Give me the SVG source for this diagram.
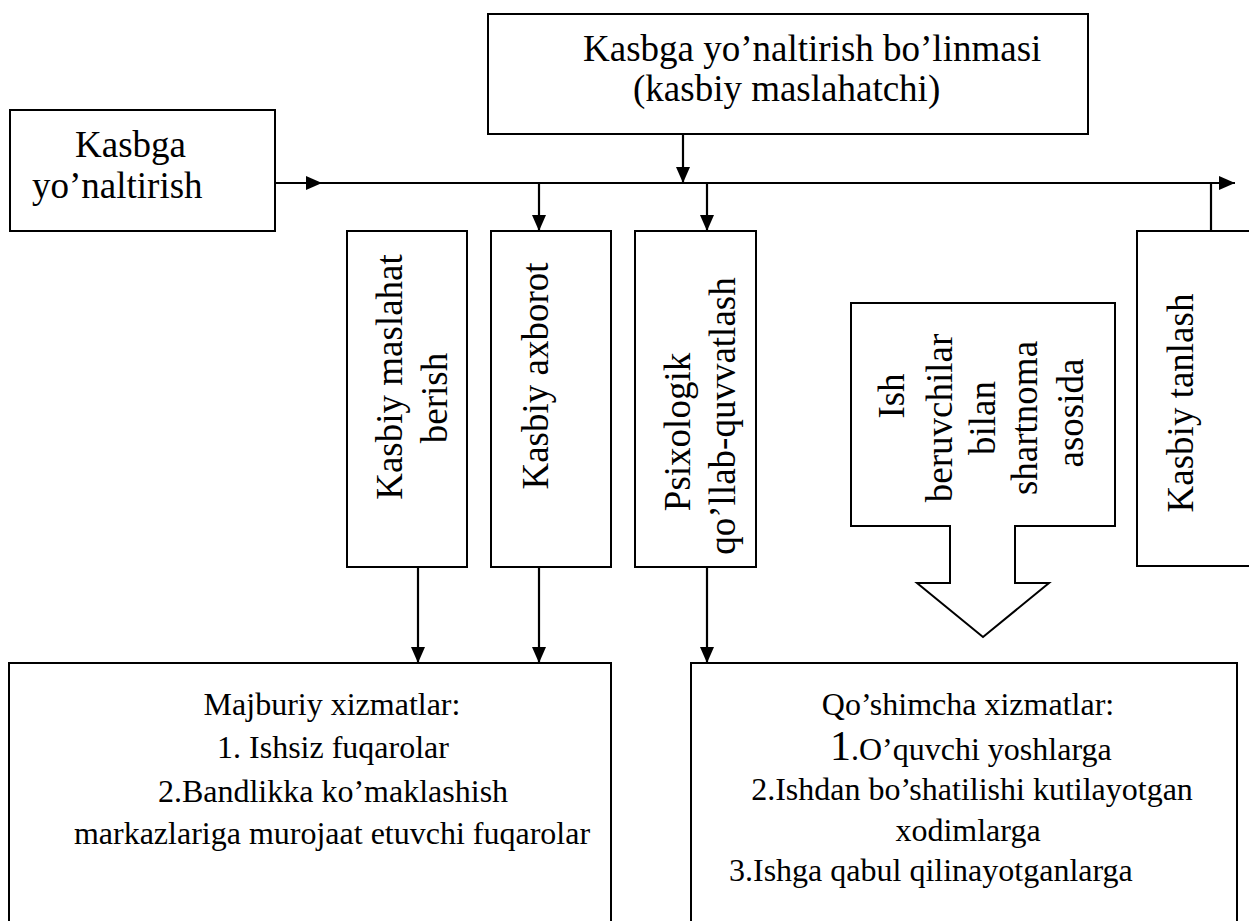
<svg xmlns="http://www.w3.org/2000/svg" width="1249" height="921" viewBox="0 0 1249 921">
<defs>
<style>
.box{fill:#fff;stroke:#000;stroke-width:2}
.ln{fill:none;stroke:#000;stroke-width:2.2}
.t{font-size:37px;fill:#000}
.s{font-size:32px;fill:#000}
.m{text-anchor:middle}
</style>
<marker id="ah" markerWidth="16" markerHeight="14" refX="16" refY="7" orient="auto" markerUnits="userSpaceOnUse">
<path d="M0,0 L16,7 L0,14 Z" fill="#000"/>
</marker>
</defs>
<rect width="1249" height="921" fill="#fff"/>

<g id="connectors">
<line class="ln" x1="275" y1="183" x2="1235" y2="183" marker-end="url(#ah)"/>
<line class="ln" x1="275" y1="183" x2="322" y2="183" marker-end="url(#ah)"/>
<line class="ln" x1="683" y1="134" x2="683" y2="183" marker-end="url(#ah)"/>
<line class="ln" x1="539" y1="183" x2="539" y2="231" marker-end="url(#ah)"/>
<line class="ln" x1="707" y1="183" x2="707" y2="231" marker-end="url(#ah)"/>
<line class="ln" x1="1211" y1="231" x2="1211" y2="183"/>
<line class="ln" x1="418" y1="567" x2="418" y2="663" marker-end="url(#ah)"/>
<line class="ln" x1="539" y1="567" x2="539" y2="663" marker-end="url(#ah)"/>
<line class="ln" x1="707" y1="567" x2="707" y2="663" marker-end="url(#ah)"/>
</g>

<g font-family="Liberation Serif, Tinos, Times New Roman, DejaVu Serif, serif">
<g id="top-node">
<rect class="box" x="488" y="14" width="600" height="120"/>
<text class="t" x="583" y="61">Kasbga yo’naltirish bo’linmasi</text>
<text class="t" x="633" y="101">(kasbiy maslahatchi)</text>
</g>

<g id="left-node">
<rect class="box" x="10" y="110" width="265" height="121"/>
<text class="t" x="75" y="157">Kasbga</text>
<text class="t" x="32" y="198">yo’naltirish</text>
</g>

<g id="maslahat-node">
<rect class="box" x="347" y="231" width="120" height="336"/>
<text class="t m" transform="translate(402,377) rotate(-90)">Kasbiy maslahat</text>
<text class="t m" transform="translate(447,398) rotate(-90)">berish</text>
</g>

<g id="axborot-node">
<rect class="box" x="491" y="231" width="120" height="336"/>
<text class="t m" transform="translate(548,376) rotate(-90)">Kasbiy axborot</text>
</g>

<g id="psixologik-node">
<rect class="box" x="635" y="231" width="121" height="336"/>
<text class="t m" transform="translate(690,432) rotate(-90)">Psixologik</text>
<text class="t m" transform="translate(735,416) rotate(-90)">qo’llab-quvvatlash</text>
</g>

<g id="ish-node">
<polygon class="box" points="851,303 1115,303 1115,526 1015,526 1015,583 1049,583 983,637 917,583 950,583 950,526 851,526"/>
<text class="t m" transform="translate(904,396) rotate(-90)">Ish</text>
<text class="t m" transform="translate(952,418) rotate(-90)">beruvchilar</text>
<text class="t m" transform="translate(995,418) rotate(-90)">bilan</text>
<text class="t m" transform="translate(1037,418) rotate(-90)">shartnoma</text>
<text class="t m" transform="translate(1083,413) rotate(-90)">asosida</text>
</g>

<g id="tanlash-node">
<rect class="box" x="1137" y="231" width="130" height="335"/>
<text class="t m" transform="translate(1193,403) rotate(-90)">Kasbiy tanlash</text>
</g>

<g id="majburiy-node">
<rect class="box" x="9" y="663" width="602" height="270"/>
<text class="s m" x="332" y="715">Majburiy xizmatlar:</text>
<text class="s m" x="333" y="758">1. Ishsiz fuqarolar</text>
<text class="s m" x="333" y="802">2.Bandlikka ko’maklashish</text>
<text class="s m" x="332" y="844">markazlariga murojaat etuvchi fuqarolar</text>
</g>

<g id="qoshimcha-node">
<rect class="box" x="691" y="663" width="546" height="270"/>
<text class="s m" x="968" y="715">Qo’shimcha xizmatlar:</text>
<text class="s" x="830" y="760"><tspan font-size="42">1</tspan>.O’quvchi yoshlarga</text>
<text class="s m" x="972" y="800">2.Ishdan bo’shatilishi kutilayotgan</text>
<text class="s m" x="968" y="841">xodimlarga</text>
<text class="s" x="729" y="881">3.Ishga qabul qilinayotganlarga</text>
</g>
</g>
</svg>
